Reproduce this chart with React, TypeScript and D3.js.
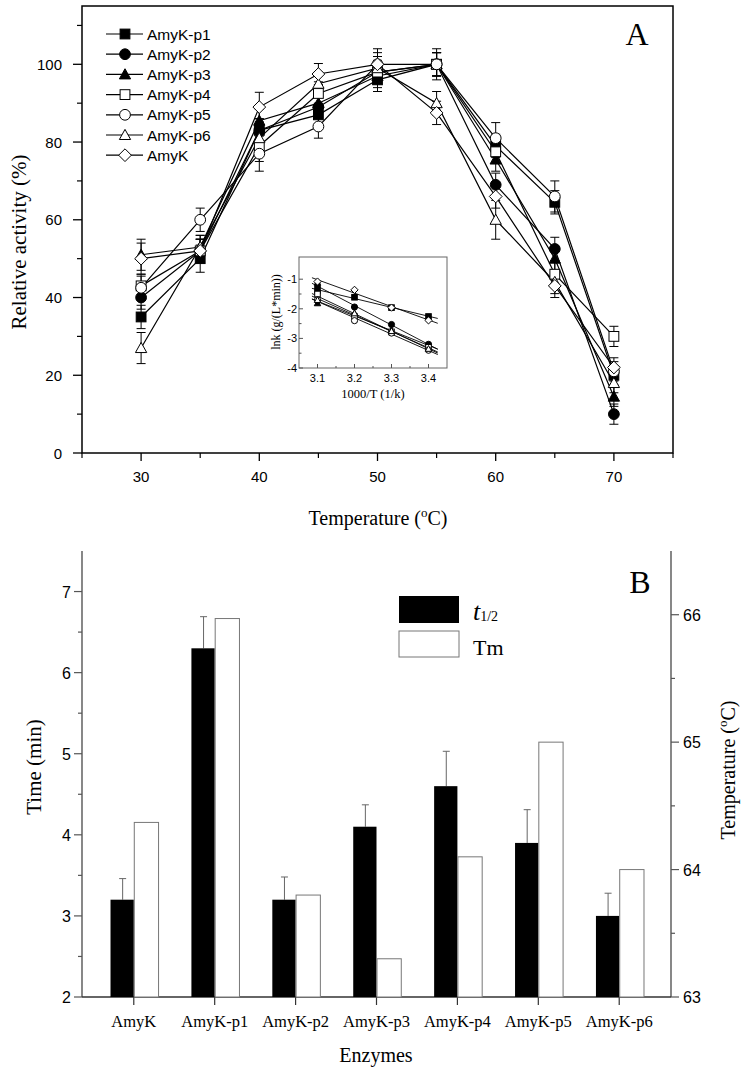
import React from "react";
import * as d3 from "d3";

// ---------- Panel A data ----------
const temps = [30, 35, 40, 45, 50, 55, 60, 65, 70];
const seriesNames = ["AmyK-p1", "AmyK-p2", "AmyK-p3", "AmyK-p4", "AmyK-p5", "AmyK-p6", "AmyK"];
const seriesShapes = ["square", "circle", "triangle", "square", "circle", "triangle", "diamond"];
const seriesFilled = [true, true, true, false, false, false, false];
const actP1 = [35, 50, 83, 87, 96, 100, 79, 64.5, 20];
const actP2 = [40, 52, 83, 89, 98, 100, 69, 52.5, 10];
const actP3 = [51, 53, 85.5, 90, 97, 100, 75.5, 50, 14.5];
const actP4 = [43, 52, 79, 92.5, 98, 100, 77.5, 46, 30];
const actP5 = [42.5, 60, 77, 84, 100, 100, 81, 66, 21];
const actP6 = [27, 53, 81, 95, 99, 90, 60, 44, 18];
const actK = [50, 52, 89, 97.5, 100, 87.5, 66, 43, 22];
const errP1 = [3, 3.5, 3, 3, 3, 3, 3, 3, 2.5];
const errP2 = [3, 3, 3, 3, 3, 3, 3, 3, 2.6];
const errP3 = [4, 3, 3, 3, 3, 3, 3, 3, 2.5];
const errP4 = [3, 3, 4, 3, 3, 3, 3, 3, 2.6];
const errP5 = [3, 3, 4.5, 3, 4, 4, 4, 4, 2.5];
const errP6 = [4, 3, 3, 3, 3, 3, 5, 3, 2.5];
const errK = [4, 3, 3.8, 2.7, 3, 3, 3, 3, 2.5];
const actAll = [actP1, actP2, actP3, actP4, actP5, actP6, actK];
const errAll = [errP1, errP2, errP3, errP4, errP5, errP6, errK];
const yTicksA = [0, 20, 40, 60, 80, 100];
const yMinorA = [10, 30, 50, 70, 90, 110];
const xTicksA = [30, 40, 50, 60, 70];
const xMinorA = [25, 35, 45, 55, 65, 75];

// ---------- Inset data ----------
const invT = [3.1, 3.2, 3.3, 3.4];
const lnkP1 = [-1.38, -1.61, -1.96, -2.26];
const lnkP2 = [-1.21, -1.94, -2.53, -3.2];
const lnkP3 = [-1.81, -2.15, -2.72, -3.28];
const lnkP4 = [-1.5, -2.26, -2.78, -3.3];
const lnkP5 = [-1.7, -2.4, -2.82, -3.4];
const lnkP6 = [-1.7, -2.15, -2.75, -3.35];
const lnkK = [-1.08, -1.36, -1.96, -2.39];
const lnkAll = [lnkP1, lnkP2, lnkP3, lnkP4, lnkP5, lnkP6, lnkK];
const insetYTicks = [-1, -2, -3, -4];
const insetXTicks = [3.1, 3.2, 3.3, 3.4];

// ---------- Panel B data ----------
const enzymes = ["AmyK", "AmyK-p1", "AmyK-p2", "AmyK-p3", "AmyK-p4", "AmyK-p5", "AmyK-p6"];
const halfLife = [3.2, 6.3, 3.2, 4.1, 4.6, 3.9, 3.0];
const halfLifeErr = [0.26, 0.39, 0.28, 0.27, 0.43, 0.41, 0.28];
const tm = [64.37, 65.97, 63.8, 63.3, 64.1, 65.0, 64.0];
const yTicksBL = [2, 3, 4, 5, 6, 7];
const yMinorBL = [2.5, 3.5, 4.5, 5.5, 6.5];
const yTicksBR = [63, 64, 65, 66];
const yMinorBR = [63.5, 64.5, 65.5];

const SANS = "'Liberation Sans', Arial, sans-serif";
const SERIF = "'Liberation Serif', 'Times New Roman', serif";

function Marker({ shape, filled, x, y, s }: { shape: string; filled: boolean; x: number; y: number; s: number }) {
  const fill = filled ? "#000" : "#fff";
  const common = { fill, stroke: "#000", strokeWidth: 1 };
  if (shape === "square") return <rect x={x - s} y={y - s} width={2 * s} height={2 * s} {...common} />;
  if (shape === "circle") return <circle cx={x} cy={y} r={s * 1.1} {...common} />;
  if (shape === "triangle") {
    const h = s * 1.15;
    return <path d={`M${x},${y - h}L${x + h},${y + h * 0.8}L${x - h},${y + h * 0.8}Z`} {...common} />;
  }
  const d = s * 1.3;
  return <path d={`M${x},${y - d}L${x + d},${y}L${x},${y + d}L${x - d},${y}Z`} {...common} />;
}

export default function App() {
  // Panel A scales
  const xA = d3.scaleLinear().domain([25, 75]).range([82, 673]);
  const yA = d3.scaleLinear().domain([0, 115]).range([453, 6]);
  const lineA = d3.line<number>().x((_, i) => xA(temps[i])).y((d) => yA(d));

  // Inset scales
  const xI = d3.scaleLinear().domain([3.05, 3.45]).range([299, 447]);
  const yI = d3.scaleLinear().domain([-4, -0.25]).range([368, 257]);

  // Panel B scales
  const xB = d3.scaleLinear().domain([0.36, 7.64]).range([82, 671]);
  const yL = d3.scaleLinear().domain([2, 7.5]).range([997, 551]);
  const yR = d3.scaleLinear().domain([63, 66.5]).range([997, 551]);
  const barW = xB(1.3) - xB(1);

  const fits = lnkAll.map((ys) => {
    const mx = d3.mean(invT) as number;
    const my = d3.mean(ys) as number;
    let num = 0, den = 0;
    invT.forEach((x, i) => { num += (x - mx) * (ys[i] - my); den += (x - mx) * (x - mx); });
    const b = num / den;
    return { b, a: my - b * mx };
  });

  return (
    <svg width={742} height={1070} style={{ display: "block", position: "absolute", left: 0, top: 0, background: "#fff" }}>
      <rect x={0} y={0} width={742} height={1070} fill="#fff" />
      {/* ================= Panel A ================= */}
      <rect x={82} y={6} width={591} height={447} fill="none" stroke="#000" strokeWidth={1.5} />
      {yTicksA.map((t) => (
        <g key={"ya" + t}>
          <line x1={73} x2={82} y1={yA(t)} y2={yA(t)} stroke="#000" strokeWidth={1.3} />
          <text x={62} y={yA(t) + 5.5} textAnchor="end" fontFamily={SANS} fontSize={15}>{t}</text>
        </g>
      ))}
      {yMinorA.map((t) => (
        <line key={"yam" + t} x1={77} x2={82} y1={yA(t)} y2={yA(t)} stroke="#000" strokeWidth={1.2} />
      ))}
      {xTicksA.map((t) => (
        <g key={"xa" + t}>
          <line x1={xA(t)} x2={xA(t)} y1={453} y2={461} stroke="#000" strokeWidth={1.3} />
          <text x={xA(t)} y={482} textAnchor="middle" fontFamily={SANS} fontSize={15}>{t}</text>
        </g>
      ))}
      {xMinorA.map((t) => (
        <line key={"xam" + t} x1={xA(t)} x2={xA(t)} y1={453} y2={458} stroke="#000" strokeWidth={1.2} />
      ))}
      <text transform="translate(26,242) rotate(-90)" textAnchor="middle" fontFamily={SERIF} fontSize={21}>Relative activity (%)</text>
      <text x={378} y={525} textAnchor="middle" fontFamily={SERIF} fontSize={20}>
        Temperature (<tspan dy={-8} fontSize={13}>o</tspan><tspan dy={8}>C)</tspan>
      </text>
      <text x={637} y={45} textAnchor="middle" fontFamily={SERIF} fontSize={32}>A</text>

      {/* series lines */}
      {actAll.map((vals, si) => (
        <path key={"la" + si} d={lineA(vals) as string} fill="none" stroke="#000" strokeWidth={1.2} />
      ))}
      {/* error bars */}
      {actAll.map((vals, si) =>
        vals.map((v, i) => {
          const x = xA(temps[i]);
          const e = errAll[si][i];
          return (
            <g key={`ea${si}-${i}`} stroke="#000" strokeWidth={1}>
              <line x1={x} x2={x} y1={yA(v - e)} y2={yA(v + e)} />
              <line x1={x - 4.5} x2={x + 4.5} y1={yA(v - e)} y2={yA(v - e)} />
              <line x1={x - 4.5} x2={x + 4.5} y1={yA(v + e)} y2={yA(v + e)} />
            </g>
          );
        })
      )}
      {/* markers */}
      {actAll.map((vals, si) =>
        vals.map((v, i) => (
          <Marker key={`ma${si}-${i}`} shape={seriesShapes[si]} filled={seriesFilled[si]} x={xA(temps[i])} y={yA(v)} s={4.9} />
        ))
      )}
      {/* legend */}
      {seriesNames.map((n, i) => {
        const y = 34 + i * 20.2;
        return (
          <g key={"lg" + n}>
            <line x1={106} x2={143} y1={y} y2={y} stroke="#000" strokeWidth={1.2} />
            <Marker shape={seriesShapes[i]} filled={seriesFilled[i]} x={125} y={y} s={4.9} />
            <text x={147} y={y + 5.5} fontFamily={SANS} fontSize={15.5}>{n}</text>
          </g>
        );
      })}

      {/* ================= Inset ================= */}
      <rect x={299} y={257} width={148} height={111} fill="#fff" stroke="#666" strokeWidth={1} />
      {insetYTicks.map((t) => (
        <g key={"iy" + t}>
          <line x1={299} x2={303} y1={yI(t)} y2={yI(t)} stroke="#555" />
          <text x={297} y={yI(t) + 4} textAnchor="end" fontFamily={SANS} fontSize={11}>{t}</text>
        </g>
      ))}
      {[-1.5, -2.5, -3.5].map((t) => (
        <line key={"iym" + t} x1={299} x2={301.5} y1={yI(t)} y2={yI(t)} stroke="#555" />
      ))}
      {insetXTicks.map((t) => (
        <g key={"ix" + t}>
          <line x1={xI(t)} x2={xI(t)} y1={368} y2={364} stroke="#555" />
          <text x={xI(t)} y={382} textAnchor="middle" fontFamily={SANS} fontSize={11}>{t.toFixed(1)}</text>
        </g>
      ))}
      {[3.15, 3.25, 3.35].map((t) => (
        <line key={"ixm" + t} x1={xI(t)} x2={xI(t)} y1={368} y2={366} stroke="#555" />
      ))}
      <text x={373} y={398} textAnchor="middle" fontFamily={SERIF} fontSize={12.5}>1000/T (1/k)</text>
      <text transform="translate(280,312) rotate(-90)" textAnchor="middle" fontFamily={SERIF} fontSize={12}>lnk (g/(L*min))</text>
      {fits.map((f, si) => (
        <line key={"fit" + si} x1={xI(3.085)} x2={xI(3.425)} y1={yI(f.a + f.b * 3.085)} y2={yI(f.a + f.b * 3.425)} stroke="#000" strokeWidth={0.9} />
      ))}
      {lnkAll.map((ys, si) =>
        ys.map((v, i) => (
          <Marker key={`mi${si}-${i}`} shape={seriesShapes[si]} filled={seriesFilled[si]} x={xI(invT[i])} y={yI(v)} s={2.8} />
        ))
      )}

      {/* ================= Panel B ================= */}
      <line x1={82} x2={82} y1={551} y2={997} stroke="#555" strokeWidth={1.4} />
      <line x1={671} x2={671} y1={551} y2={997} stroke="#555" strokeWidth={1.4} />
      <line x1={82} x2={671} y1={997} y2={997} stroke="#333" strokeWidth={1.4} />
      {yTicksBL.map((t) => (
        <g key={"bl" + t}>
          <line x1={74} x2={82} y1={yL(t)} y2={yL(t)} stroke="#555" strokeWidth={1.2} />
          <text x={71} y={yL(t) + 6} textAnchor="end" fontFamily={SANS} fontSize={16}>{t}</text>
        </g>
      ))}
      {yMinorBL.map((t) => (
        <line key={"blm" + t} x1={78} x2={82} y1={yL(t)} y2={yL(t)} stroke="#555" strokeWidth={1.2} />
      ))}
      {yTicksBR.map((t) => (
        <g key={"br" + t}>
          <line x1={671} x2={679} y1={yR(t)} y2={yR(t)} stroke="#555" strokeWidth={1.2} />
          <text x={683} y={yR(t) + 6} fontFamily={SANS} fontSize={16}>{t}</text>
        </g>
      ))}
      {yMinorBR.map((t) => (
        <line key={"brm" + t} x1={671} x2={675} y1={yR(t)} y2={yR(t)} stroke="#555" strokeWidth={1.2} />
      ))}
      {enzymes.map((e, i) => (
        <g key={"bx" + e}>
          <line x1={xB(i + 1)} x2={xB(i + 1)} y1={997} y2={1005} stroke="#333" strokeWidth={1.2} />
          <text x={xB(i + 1)} y={1027} textAnchor="middle" fontFamily={SERIF} fontSize={16.5}>{e}</text>
        </g>
      ))}
      {enzymes.map((e, i) => {
        const cx = xB(i + 1);
        const top = yL(halfLife[i]);
        const errTop = yL(halfLife[i] + halfLifeErr[i]);
        const bx = cx - barW + 1;
        return (
          <g key={"bar" + e}>
            <line x1={bx + barW / 2} x2={bx + barW / 2} y1={top} y2={errTop} stroke="#666" strokeWidth={1} />
            <line x1={bx + barW / 2 - 3.5} x2={bx + barW / 2 + 3.5} y1={errTop} y2={errTop} stroke="#666" strokeWidth={1} />
            <rect x={bx} y={top} width={barW - 1} height={997 - top} fill="#000" />
            <rect x={cx + 0.5} y={yR(tm[i])} width={barW} height={997 - yR(tm[i])} fill="#fff" stroke="#777" strokeWidth={1} />
          </g>
        );
      })}
      <text transform="translate(41,767) rotate(-90)" textAnchor="middle" fontFamily={SERIF} fontSize={21}>Time (min)</text>
      <text transform="translate(735,770) rotate(-90)" textAnchor="middle" fontFamily={SERIF} fontSize={20}>
        Temperature (<tspan dy={-8} fontSize={13}>o</tspan><tspan dy={8}>C)</tspan>
      </text>
      <text x={376} y={1062} textAnchor="middle" fontFamily={SERIF} fontSize={20}>Enzymes</text>
      <text x={640} y={593} textAnchor="middle" fontFamily={SERIF} fontSize={32}>B</text>
      {/* legend B */}
      <rect x={399} y={596} width={60} height={27} fill="#000" />
      <rect x={399} y={631} width={60} height={26} fill="#fff" stroke="#777" strokeWidth={1} />
      <text x={473} y={620} fontFamily={SERIF} fontSize={26} fontStyle="italic">t<tspan fontSize={14} fontStyle="normal" dy={1}>1/2</tspan></text>
      <text x={473} y={655} fontFamily={SERIF} fontSize={22}>Tm</text>
    </svg>
  );
}
